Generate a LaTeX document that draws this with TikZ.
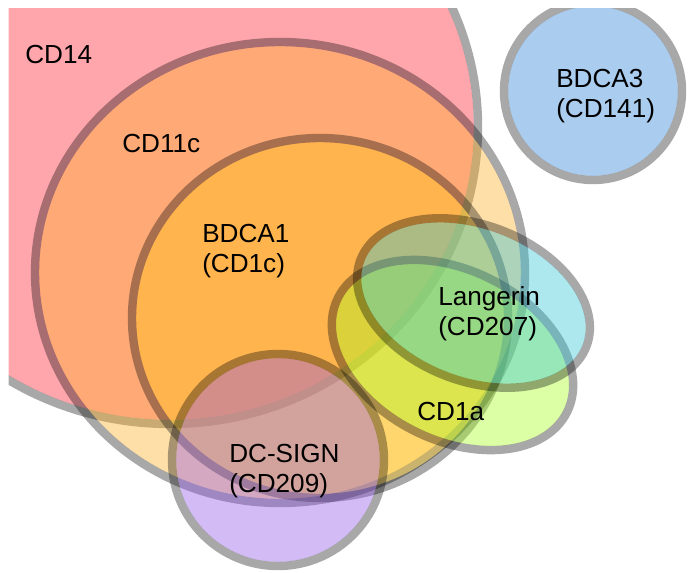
\documentclass[tikz,border=0pt]{standalone}
\usepackage{fontspec}
\setmainfont{Liberation Sans}
\definecolor{cdfourteen}{RGB}{255,30,47}
\definecolor{cdelevenc}{RGB}{255,175,37}
\definecolor{cdbdcaone}{RGB}{255,198,20}
\definecolor{cddcsign}{RGB}{145,87,230}
\definecolor{cdonea}{RGB}{167,255,32}
\definecolor{cdlangerin}{RGB}{50,197,215}
\definecolor{cdbdcathree}{RGB}{42,127,212}
\begin{document}
\begin{tikzpicture}[x=0.75pt,y=-0.75pt,
  vfill/.style={fill opacity=0.4},
  vline/.style={draw=black,draw opacity=0.34,line width=6.3pt},
  lbl/.style={anchor=base west,align=left,font=\fontsize{19.6}{22.5}\selectfont,inner sep=0pt,text=black}]
\useasboundingbox (0,0) rectangle (688,573);
\begin{scope}
\clip (8.5,8.3) rectangle (688,573);
% CD14
\fill[vfill,cdfourteen] (170,127) ellipse [x radius=303.8,y radius=292.8];
\draw[vline] (170,127) ellipse [x radius=308,y radius=297];
% CD11c
\fill[vfill,cdelevenc] (280,272.5) ellipse [x radius=240.8,y radius=226.3];
\draw[vline] (280,272.5) ellipse [x radius=245,y radius=230.5];
% BDCA1
\fill[vfill,cdbdcaone] (320,318) ellipse [x radius=183.8,y radius=175.8];
\draw[vline] (320,318) ellipse [x radius=188,y radius=180];
% DC-SIGN
\fill[vfill,cddcsign] (278,460) circle [radius=101.8];
\draw[vline] (278,460) circle [radius=106];
% CD1a
\fill[vfill,cdonea,rotate around={-26.5:(452.5,355)}] (452.5,355) ellipse [x radius=123.8,y radius=80.8];
\draw[vline,rotate around={-26.5:(452.5,355)}] (452.5,355) ellipse [x radius=128,y radius=85];
% Langerin
\fill[vfill,cdlangerin,rotate around={-21:(473.5,303)}] (473.5,303) ellipse [x radius=116.8,y radius=73.8];
\draw[vline,rotate around={-21:(473.5,303)}] (473.5,303) ellipse [x radius=121,y radius=78];
% BDCA3
\fill[vfill,cdbdcathree] (593,91) circle [radius=84.8];
\draw[vline] (593,91) circle [radius=89];
\end{scope}
\node[lbl] (cd14) at (25,64) {CD14};
\node[lbl] (cd11c) at (122,153) {CD11c};
\node[lbl] (bdca1) at (202,273) {BDCA1\\(CD1c)};
\node[lbl] (bdca3) at (556,118) {BDCA3\\(CD141)};
\node[lbl] (langerin) at (438,335) {Langerin\\(CD207)};
\node[lbl] (cd1a) at (417,420) {CD1a};
\node[lbl] (dcsign) at (229,492) {DC-SIGN\\(CD209)};
\end{tikzpicture}
\end{document}
